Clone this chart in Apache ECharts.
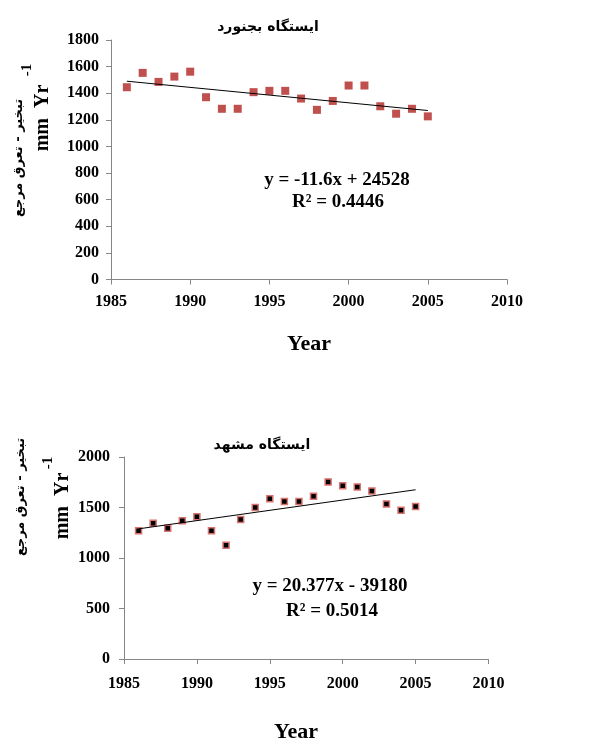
<!DOCTYPE html>
<html>
<head>
<meta charset="utf-8">
<script src="https://cdn.jsdelivr.net/npm/echarts@6/dist/echarts.min.js"></script>
<style>
  html, body { margin: 0; padding: 0; background: #fff; }
  #chart { width: 595px; height: 740px; }
</style>
</head>
<body>
<div id="chart"></div>
<script>
"use strict";

// Years shared by both stations
const years = [1986, 1987, 1988, 1989, 1990, 1991, 1992, 1993, 1994, 1995,
  1996, 1997, 1998, 1999, 2000, 2001, 2002, 2003, 2004, 2005];

// Reference evapotranspiration (mm/yr)
const bojnordValues = [1445, 1553, 1485, 1525, 1562, 1370, 1283, 1283, 1408, 1418,
  1418, 1360, 1275, 1342, 1458, 1458, 1302, 1246, 1283, 1226];
const mashhadValues = [1270, 1345, 1295, 1370, 1408, 1270, 1127, 1382, 1500, 1587,
  1560, 1560, 1612, 1753, 1716, 1703, 1663, 1535, 1472, 1510];

// Linear trend coefficients printed on the chart
const bojnordTrend = { slope: -11.6, intercept: 24528, r2: "0.4446" };
const mashhadTrend = { slope: 20.377, intercept: -39180, r2: "0.5014" };

const xTicks = { min: 1985, max: 2010, interval: 5 };

const serif = "'Liberation Serif', 'Times New Roman', serif";
const arabic = "'DejaVu Sans', sans-serif";
const axisGrey = "#868686";

function pairs(xs, ys) {
  return xs.map((x, i) => [x, ys[i]]);
}

function trendLine(trend) {
  const x0 = years[0];
  const x1 = years[years.length - 1];
  return [[x0, trend.slope * x0 + trend.intercept], [x1, trend.slope * x1 + trend.intercept]];
}

// plain numbers, no thousands separator
const plain = (v) => String(v);

function xAxisOf(gridIndex, margin) {
  return {
    type: "value",
    gridIndex: gridIndex,
    min: xTicks.min,
    max: xTicks.max,
    interval: xTicks.interval,
    axisLine: { lineStyle: { color: axisGrey, width: 1 } },
    axisTick: { show: true, length: 5, lineStyle: { color: axisGrey } },
    splitLine: { show: false },
    axisLabel: { formatter: plain, color: "#000", fontFamily: serif, fontWeight: "bold", fontSize: 16, margin: margin }
  };
}

function yAxisOf(gridIndex, max, interval, margin) {
  return {
    type: "value",
    gridIndex: gridIndex,
    min: 0,
    max: max,
    interval: interval,
    axisLine: { show: true, lineStyle: { color: axisGrey, width: 1 } },
    axisTick: { show: true, length: 5, lineStyle: { color: axisGrey } },
    splitLine: { show: false },
    axisLabel: { formatter: plain, color: "#000", fontFamily: serif, fontWeight: "bold", fontSize: 16, margin: margin }
  };
}

function txt(x, y, text, size, font, opts) {
  return Object.assign({
    type: "text",
    x: x,
    y: y,
    style: {
      text: text,
      fill: "#000",
      font: "bold " + size + "px " + font,
      align: "center",
      verticalAlign: "middle"
    }
  }, opts || {});
}

function rotTxt(x, y, text, size, font) {
  return txt(x, y, text, size, font, { rotation: Math.PI / 2 });
}

function fmtEq(trend) {
  const sign = trend.intercept < 0 ? " - " : " + ";
  return "y = " + trend.slope + "x" + sign + Math.abs(trend.intercept);
}

const chart = echarts.init(document.getElementById("chart"));

chart.setOption({
  animation: false,
  backgroundColor: "#fff",
  grid: [
    { left: 111, top: 40, width: 396, height: 239.5 },
    { left: 124, top: 457, width: 364.5, height: 202 }
  ],
  xAxis: [xAxisOf(0, 14), xAxisOf(1, 17)],
  yAxis: [yAxisOf(0, 1800, 200, 12), yAxisOf(1, 2000, 500, 14)],
  series: [
    {
      type: "scatter",
      xAxisIndex: 0,
      yAxisIndex: 0,
      symbol: "rect",
      symbolSize: 8,
      itemStyle: { color: "#C0504D", opacity: 1 },
      data: pairs(years, bojnordValues),
      z: 3
    },
    {
      type: "line",
      xAxisIndex: 0,
      yAxisIndex: 0,
      symbol: "none",
      lineStyle: { color: "#000", width: 1 },
      data: trendLine(bojnordTrend),
      z: 4
    },
    {
      type: "scatter",
      xAxisIndex: 1,
      yAxisIndex: 1,
      symbol: "rect",
      symbolSize: 6,
      itemStyle: { color: "#000", borderColor: "#D9736F", borderWidth: 1.5, opacity: 1 },
      data: pairs(years, mashhadValues),
      z: 3
    },
    {
      type: "line",
      xAxisIndex: 1,
      yAxisIndex: 1,
      symbol: "none",
      lineStyle: { color: "#000", width: 1 },
      data: trendLine(mashhadTrend),
      z: 4
    }
  ],
  graphic: [
    // top chart
    txt(268, 27, "ایستگاه بجنورد", 14, arabic),
    txt(337, 180, fmtEq(bojnordTrend), 19, serif),
    txt(338, 202, "R² = " + bojnordTrend.r2, 19, serif),
    txt(309, 344, "Year", 22, serif),
    rotTxt(43, 118, "mm  Yr", 20, serif),
    rotTxt(27, 70, "-1", 15, serif),
    rotTxt(19, 158, "تبخیر - تعرق مرجع", 13, arabic),
    // bottom chart
    txt(262, 445, "ایستگاه مشهد", 14, arabic),
    txt(330, 586, fmtEq(mashhadTrend), 19, serif),
    txt(332, 611, "R² = " + mashhadTrend.r2, 19, serif),
    txt(296, 732, "Year", 22, serif),
    rotTxt(63, 506, "mm  Yr", 20, serif),
    rotTxt(48, 463, "-1", 15, serif),
    rotTxt(21, 497, "تبخیر - تعرق مرجع", 13, arabic)
  ]
});
</script>
</body>
</html>
